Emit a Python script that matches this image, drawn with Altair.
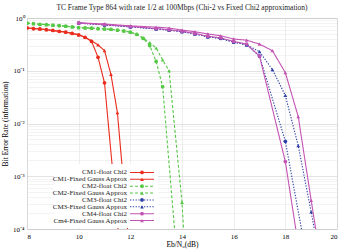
import altair as alt
import pandas as pd

# ---- data -----------------------------------------------------------------
SERIES = [
    "CM1-float Chi2", "CM1-Fixed Gauss Approx",
    "CM2-float Chi2", "CM2-Fixed Gauss Approx",
    "CM3-float Chi2", "CM3-Fixed Gauss Approx",
    "CM4-float Chi2", "Cm4-Fixed Gauss Approx",
]
COLORS = ["#ea2c1e", "#ea2c1e", "#55c845", "#55c845",
          "#2b3fa6", "#2b3fa6", "#c454b4", "#c454b4"]
SHAPES = ["circle", "triangle-up"] * 4
DASHES = [[1, 0], [1, 0], [3, 2], [3, 2], [1.3, 1.5], [1.3, 1.5], [1, 0], [1, 0]]

cm1_float_x = [8.0, 8.25, 8.5, 8.75, 9.0, 9.25, 9.5, 9.75, 10.0, 10.25, 10.5,
               10.75, 11.0, 11.6]
cm1_float_ber = [0.65, 0.63, 0.62, 0.60, 0.58, 0.56, 0.54, 0.51, 0.48, 0.43,
                 0.36, 0.18, 0.059, 4e-5]
cm1_fixed_x = [8.0, 8.25, 8.5, 8.75, 9.0, 9.25, 9.5, 9.75, 10.0, 10.25, 10.5,
               10.75, 11.0, 11.25, 11.5, 12.0]
cm1_fixed_ber = [0.65, 0.63, 0.62, 0.60, 0.58, 0.56, 0.54, 0.51, 0.48, 0.43,
                 0.37, 0.31, 0.24, 0.085, 0.016, 2.5e-5]

cm2_float_x = [8.0, 8.25, 8.5, 8.75, 9.0, 9.25, 9.5, 9.75, 10.0, 10.25, 10.5,
               10.75, 11.0, 11.25, 11.5, 11.75, 12.0, 12.25, 12.5, 12.75,
               13.0, 13.25, 13.8]
cm2_float_ber = [0.80, 0.78, 0.76, 0.75, 0.73, 0.72, 0.70, 0.68, 0.66, 0.65,
                 0.64, 0.63, 0.62, 0.61, 0.59, 0.57, 0.54, 0.49, 0.41, 0.30,
                 0.15, 0.05, 3e-5]
cm2_fixed_x = [8.0, 8.25, 8.5, 8.75, 9.0, 9.25, 9.5, 9.75, 10.0, 10.25, 10.5,
               10.75, 11.0, 11.25, 11.5, 11.75, 12.0, 12.25, 12.5, 12.75,
               13.0, 13.25, 13.5, 14.0, 14.3]
cm2_fixed_ber = [0.80, 0.78, 0.76, 0.75, 0.73, 0.72, 0.70, 0.68, 0.66, 0.65,
                 0.64, 0.63, 0.62, 0.61, 0.59, 0.57, 0.54, 0.49, 0.42, 0.34,
                 0.27, 0.16, 0.10, 3.2e-4, 1e-6]

cm3_float_x = [10, 11, 12, 13, 13.5, 14, 14.5, 15, 15.5, 16, 16.5, 17, 18, 19]
cm3_float_ber = [0.80, 0.74, 0.68, 0.62, 0.59, 0.55, 0.50, 0.44, 0.41, 0.35,
                 0.31, 0.19, 0.0046, 1e-5]
cm3_fixed_x = [10, 11, 12, 13, 13.5, 14, 14.5, 15, 15.5, 16, 16.5, 17, 17.5,
               18, 18.5, 19, 19.5]
cm3_fixed_ber = [0.80, 0.74, 0.68, 0.62, 0.59, 0.55, 0.50, 0.44, 0.41, 0.35,
                 0.31, 0.23, 0.105, 0.034, 0.0038, 2.1e-4, 1e-5]

cm4_float_x = [10, 11, 12, 13, 13.5, 14, 14.5, 15, 15.5, 16, 16.5, 17, 18, 18.5]
cm4_float_ber = [0.81, 0.75, 0.69, 0.63, 0.60, 0.56, 0.51, 0.45, 0.42, 0.36,
                 0.32, 0.19, 0.0019, 5e-5]
cm4_fixed_x = [10, 11, 12, 13, 13.5, 14, 14.5, 15, 15.5, 16, 16.5, 17, 17.5,
               18, 18.5, 19, 19.5]
cm4_fixed_ber = [0.81, 0.77, 0.71, 0.67, 0.645, 0.59, 0.55, 0.50, 0.46, 0.40,
                 0.38, 0.32, 0.24, 0.092, 0.0135, 3.5e-4, 1e-5]

curves = [
    (cm1_float_x, cm1_float_ber), (cm1_fixed_x, cm1_fixed_ber),
    (cm2_float_x, cm2_float_ber), (cm2_fixed_x, cm2_fixed_ber),
    (cm3_float_x, cm3_float_ber), (cm3_fixed_x, cm3_fixed_ber),
    (cm4_float_x, cm4_float_ber), (cm4_fixed_x, cm4_fixed_ber),
]

rows = []
for name, (xs, ys) in zip(SERIES, curves):
    for x, y in zip(xs, ys):
        rows.append({"series": name, "ebn0": x, "ber": y})
df = pd.DataFrame(rows)
legend_df = pd.DataFrame({"series": SERIES})

# ---- scales / axes ----------------------------------------------------------
FONT = "Liberation Serif"
color = alt.Color("series:N", scale=alt.Scale(domain=SERIES, range=COLORS), legend=None)
shape = alt.Shape("series:N", scale=alt.Scale(domain=SERIES, range=SHAPES), legend=None)
dash = alt.StrokeDash("series:N", scale=alt.Scale(domain=SERIES, range=DASHES), legend=None)

y_ticks = [m * 10.0 ** k for k in range(-4, 0) for m in range(1, 10)] + [1.0]
decade = "abs(log(datum.value)/LN10 - round(log(datum.value)/LN10)) < 1e-6"
sup = "['10\u2070','10\u207b\u00b9','10\u207b\u00b2','10\u207b\u00b3','10\u207b\u2074']"

x_enc = alt.X(
    "ebn0:Q",
    scale=alt.Scale(domain=[8, 20], nice=False),
    axis=alt.Axis(
        values=list(range(8, 21)),
        labelExpr="datum.value % 2 == 0 ? datum.label : ''",
        title="Eb/N\u2080(dB)", titleFont=FONT, titleFontSize=7.5,
        titleFontWeight="normal", titlePadding=1,
        labelFont=FONT, labelFontSize=7, labelPadding=3,
        ticks=False, domain=False,
        gridColor="#d4d4d4", gridDash=[1, 1], gridWidth=0.8,
    ),
)
y_enc = alt.Y(
    "ber:Q",
    scale=alt.Scale(type="log", domain=[1e-4, 1], nice=False),
    axis=alt.Axis(
        values=y_ticks,
        labelExpr=f"{decade} ? {sup}[round(-log(datum.value)/LN10)] : ''",
        title="Bit Error Rate (information)", titleFont=FONT, titleFontSize=7.5,
        titleFontWeight="normal", titlePadding=3,
        labelFont=FONT, labelFontSize=7, labelPadding=3,
        ticks=False, domain=False,
        gridColor={"condition": {"test": decade, "value": "#b8b8b8"}, "value": "#e0e0e0"},
        gridDash=[1, 1], gridWidth=0.8,
    ),
)

base = alt.Chart(df)
lines = base.mark_line(clip=True, strokeWidth=1.1).encode(
    x=x_enc, y=y_enc, color=color, strokeDash=dash, detail="series:N"
)
points = base.mark_point(clip=True, filled=True, size=14, opacity=1).encode(
    x="ebn0:Q", y="ber:Q", color=color, shape=shape
)
curves_layer = alt.layer(lines, points)

# ---- in-plot legend (text left, line sample right) -------------------------
leg_y = alt.Y("series:N", scale=alt.Scale(domain=SERIES, range=[151, 206]), axis=None)
leg = alt.Chart(legend_df)
leg_bg = leg.mark_rect(color="white").encode(
    x=alt.value(27), x2=alt.value(131), y=alt.value(146), y2=alt.value(210)
)
leg_line = leg.mark_rule(strokeWidth=1.1).encode(
    x=alt.value(103), x2=alt.value(127), y=leg_y, color=color, strokeDash=dash
)
leg_pt = leg.mark_point(filled=True, size=14, opacity=1).encode(
    x=alt.value(115), y=leg_y, color=color, shape=shape
)
leg_txt = leg.mark_text(align="right", baseline="middle", font=FONT, fontSize=7,
                        color="#222").encode(
    x=alt.value(100), y=leg_y, text="series:N"
)
legend_layer = alt.layer(leg_line, leg_pt, leg_txt)

chart = (
    alt.layer(curves_layer, leg_bg, legend_layer)
    .resolve_scale(y="independent")
    .properties(
        width=310, height=211,
        padding={"left": 27, "top": 18, "right": 10, "bottom": 21},
        autosize=alt.AutoSizeParams(type="none"),
        title=alt.Title(
            "TC Frame Type 864 with rate 1/2 at 100Mbps (Chi-2 vs Fixed Chi2 approximation)",
            font=FONT, fontSize=7.5, fontWeight="normal", anchor="middle",
            offset=3, color="#222",
        ),
    )
    .configure_view(stroke="#555", strokeWidth=0.8)
    .configure(background="white")
)

chart.save("out.html", embed_options={"renderer": "svg", "actions": False})
